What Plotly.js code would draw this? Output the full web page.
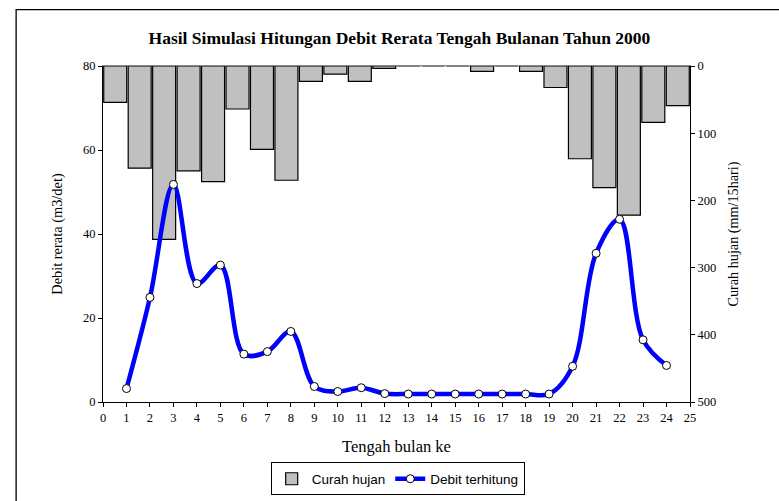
<!DOCTYPE html>
<html>
<head>
<meta charset="utf-8">
<script src="https://cdn.plot.ly/plotly-3.0.1.min.js"></script>
<style>html,body{margin:0;padding:0;background:#fff;}#chart{width:779px;height:501px;}</style>
</head>
<body>
<div id="chart"></div>
<script>
// Data
const periods = [1,2,3,4,5,6,7,8,9,10,11,12,13,14,15,16,17,18,19,20,21,22,23,24];
const curahHujan = [54,152,258,156,172,64,124,170,23,12,23,3.5,0,0,0,8,0,8,32,138,181,222,84,59];
const debitTerhitung = [3.2,24.9,51.8,28.2,32.6,11.4,12.0,16.8,3.7,2.5,3.4,2.0,1.9,1.9,1.9,1.9,1.9,1.9,1.9,8.5,35.4,43.5,14.8,8.7];
const xTicks = [0,1,2,3,4,5,6,7,8,9,10,11,12,13,14,15,16,17,18,19,20,21,22,23,24,25];

const serif = "'Liberation Serif', 'Times New Roman', serif";
const sans = "'Liberation Sans', Arial, sans-serif";

const traces = [
  {
    type: 'bar', name: 'Curah hujan',
    x: periods, y: curahHujan,
    xaxis: 'x', yaxis: 'y',
    width: 0.94,
    marker: {color: '#c0c0c0', line: {color: '#000', width: 1.2}},
    hoverinfo: 'x+y'
  },
  {
    type: 'scatter', mode: 'lines+markers', name: 'Debit terhitung',
    x: periods, y: debitTerhitung,
    xaxis: 'x2', yaxis: 'y2',
    line: {color: '#0000ff', width: 4.5, shape: 'spline', smoothing: 1},
    marker: {symbol: 'circle', size: 8, color: '#fff', line: {color: '#000', width: 1}}
  }
];

const layout = {
  width: 779, height: 501,
  margin: {l: 103, r: 89, t: 66, b: 99.3, pad: 0, autoexpand: false},
  paper_bgcolor: '#fff', plot_bgcolor: 'rgba(0,0,0,0)',
  font: {family: serif, size: 12.5, color: '#000'},
  showlegend: true,
  title: {
    text: '<b>Hasil Simulasi Hitungan Debit Rerata Tengah Bulanan Tahun 2000</b>',
    font: {family: serif, size: 17.5, color: '#000'},
    xref: 'paper', x: 0.505, xanchor: 'center',
    yref: 'container', y: 0.924, yanchor: 'middle'
  },
  // bars: category-like axis spanning the full plot width
  xaxis: {
    range: [0.5, 24.5], side: 'top', showline: true, linecolor: '#888', linewidth: 1,
    ticks: '', showticklabels: false, showgrid: false, zeroline: false, fixedrange: true
  },
  yaxis: {
    range: [500, 0], side: 'right', dtick: 100,
    showline: true, linecolor: '#000', linewidth: 1,
    ticks: 'outside', ticklen: 4, tickcolor: '#000', tickwidth: 1,
    tickfont: {family: serif, size: 12.5, color: '#000'},
    showgrid: false, zeroline: false,
    title: {text: 'Curah hujan (mm/15hari)', font: {family: serif, size: 14.2, color: '#000'}, standoff: 12}
  },
  yaxis3: {
    range: [500, 0], overlaying: 'y', side: 'right', dtick: 100,
    showline: false, ticks: 'inside', ticklen: 4, tickcolor: '#000', tickwidth: 1,
    showticklabels: false, showgrid: false, zeroline: false
  },
  // line: numeric axes
  xaxis2: {
    overlaying: 'x', side: 'bottom', anchor: 'y2', range: [0, 25],
    tickvals: xTicks, ticktext: xTicks.map(String),
    showline: true, linecolor: '#000', linewidth: 1,
    ticks: 'outside', ticklen: 4, tickcolor: '#000',
    tickfont: {family: serif, size: 12.5, color: '#000'},
    showgrid: false, zeroline: false,
    title: {text: 'Tengah bulan ke', font: {family: serif, size: 16.5, color: '#000'}, standoff: 16}
  },
  yaxis2: {
    overlaying: 'y', side: 'left', anchor: 'x2', range: [0, 80], dtick: 20,
    showline: true, linecolor: '#000', linewidth: 1,
    ticks: 'outside', ticklen: 4, tickcolor: '#000',
    tickfont: {family: serif, size: 12.5, color: '#000'},
    showgrid: false, zeroline: false,
    title: {text: 'Debit rerata (m3/det)', font: {family: serif, size: 14.4, color: '#000'}, standoff: 16}
  },
  legend: {
    orientation: 'h', x: 0.502, xanchor: 'center', y: -0.18, yanchor: 'top',
    xref: 'paper', yref: 'paper',
    bordercolor: '#000', borderwidth: 1, bgcolor: '#fff',
    font: {family: sans, size: 13.5, color: '#000'},
    traceorder: 'normal', itemwidth: 30
  },
  shapes: [
    {type: 'rect', xref: 'paper', yref: 'paper',
     x0: -0.148, x1: 1.3, y0: -0.4, y1: 1.168,
     line: {color: '#000', width: 1.3}, fillcolor: 'rgba(0,0,0,0)', layer: 'below'}
  ]
};

Plotly.newPlot('chart', traces, layout, {displayModeBar: false, staticPlot: true});
</script>
</body>
</html>
